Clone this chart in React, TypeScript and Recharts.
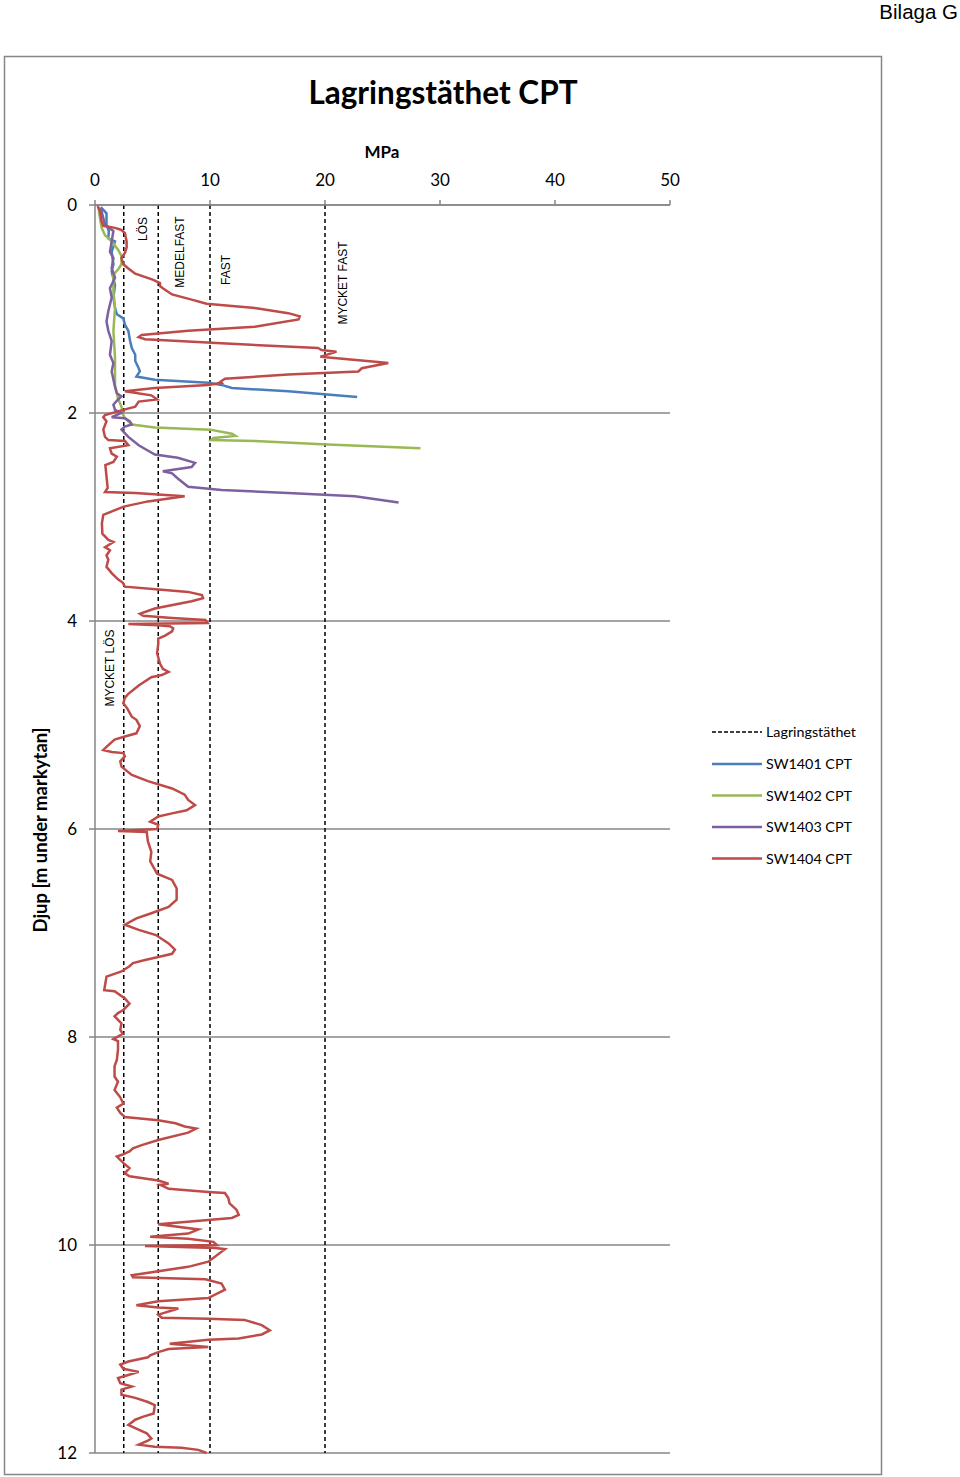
import React from 'react';
import { ScatterChart, Scatter, XAxis, YAxis, CartesianGrid, ReferenceLine } from 'recharts';

const DEPTH_TICKS = [0, 2, 4, 6, 8, 10, 12];
const MPA_TICKS = [0, 10, 20, 30, 40, 50];
const THRESHOLDS = [2.5, 5.5, 10, 20];

// [depth m, qc MPa]
const SW1401: [number, number][] = [
  [0.02, 0.5], [0.08, 1.0], [0.19, 1.0], [0.25, 1.2], [0.32, 1.16], [0.35, 1.74], [0.45, 1.45],
  [0.57, 1.6], [0.64, 1.45], [0.77, 1.74], [0.89, 1.6], [0.99, 1.74], [1.05, 1.9], [1.09, 2.46],
  [1.15, 2.6], [1.21, 2.9], [1.3, 3.04], [1.375, 3.2], [1.44, 3.5], [1.5, 3.5], [1.57, 3.8],
  [1.6, 3.9], [1.65, 3.6], [1.68, 5.2], [1.71, 9.85], [1.73, 11.0], [1.76, 11.9], [1.79, 16.8],
  [1.846, 22.8],
];

const SW1402: [number, number][] = [
  [0.02, 0.3], [0.125, 0.43], [0.22, 0.58], [0.29, 0.87], [0.35, 1.45], [0.43, 2.0], [0.49, 2.3],
  [0.57, 2.3], [0.62, 2.0], [0.67, 1.6], [0.83, 1.6], [0.99, 1.74], [1.21, 1.6], [1.47, 1.74],
  [1.73, 1.74], [1.86, 2.0], [1.94, 2.3], [2.02, 2.46], [2.05, 2.6], [2.11, 3.2], [2.14, 5.2],
  [2.16, 10.0], [2.2, 11.9], [2.22, 12.2], [2.24, 10.3], [2.26, 10.1], [2.27, 13.9], [2.3, 19.7],
  [2.34, 28.3],
];

const SW1403: [number, number][] = [
  [0.03, 0.5], [0.125, 0.72], [0.19, 0.87], [0.25, 1.6], [0.35, 1.45], [0.45, 1.3], [0.51, 1.6],
  [0.61, 1.45], [0.7, 1.74], [0.8, 1.3], [0.89, 1.45], [1.02, 1.16], [1.12, 1.0], [1.21, 1.16],
  [1.31, 1.45], [1.44, 1.3], [1.52, 1.6], [1.6, 1.45], [1.75, 1.74], [1.81, 1.9], [1.84, 2.3],
  [1.87, 2.0], [1.92, 1.6], [1.97, 1.74], [2.0, 2.3], [2.04, 1.45], [2.05, 2.6], [2.08, 3.04],
  [2.11, 3.2], [2.13, 2.6], [2.16, 2.3], [2.23, 2.9], [2.31, 3.8], [2.4, 5.2], [2.43, 7.2],
  [2.48, 8.7], [2.52, 8.4], [2.56, 5.9], [2.58, 6.7], [2.63, 7.2], [2.71, 8.1], [2.74, 11.0],
  [2.77, 16.8], [2.8, 22.6], [2.86, 26.4],
];

const SW1404: [number, number][] = [
  [0.01, 0.23], [0.06, 0.43], [0.16, 0.58], [0.2, 0.72], [0.22, 1.74], [0.24, 2.3], [0.27, 2.6],
  [0.35, 2.75], [0.41, 2.75], [0.46, 2.6], [0.51, 2.3], [0.57, 2.46], [0.61, 2.9], [0.66, 3.5],
  [0.72, 5.07], [0.75, 5.65], [0.78, 5.65], [0.8, 5.9], [0.86, 6.7], [0.91, 8.4], [0.95, 9.7],
  [0.99, 13.9], [1.04, 16.8], [1.07, 17.8], [1.1, 17.7], [1.17, 13.9], [1.21, 8.1], [1.25, 4.06],
  [1.27, 3.8], [1.29, 4.35], [1.33, 11.0], [1.375, 19.4], [1.394, 19.7], [1.41, 21.0], [1.46, 19.6],
  [1.51, 24.6], [1.52, 25.5], [1.57, 23.2], [1.6, 22.9], [1.63, 16.8], [1.67, 11.3], [1.7, 10.9],
  [1.71, 11.0], [1.73, 9.85], [1.76, 5.2], [1.79, 2.6], [1.83, 4.9], [1.87, 5.4], [1.89, 3.8],
  [1.94, 3.5], [1.97, 2.46], [2.02, 0.87], [2.04, 0.72], [2.08, 1.0], [2.16, 0.72], [2.23, 0.87],
  [2.26, 1.16], [2.27, 2.6], [2.31, 2.9], [2.34, 1.3], [2.39, 1.45], [2.42, 1.9], [2.47, 1.6],
  [2.5, 0.9], [2.61, 1.0], [2.72, 1.1], [2.76, 0.87], [2.77, 3.5], [2.8, 7.8], [2.85, 4.6],
  [2.9, 2.5], [2.98, 0.72], [3.06, 0.6], [3.16, 0.64], [3.22, 1.16], [3.24, 1.6], [3.29, 0.87],
  [3.32, 1.3], [3.37, 1.0], [3.41, 1.16], [3.48, 1.0], [3.54, 1.45], [3.6, 2.0], [3.63, 2.4],
  [3.67, 2.6], [3.7, 5.8], [3.72, 8.1], [3.75, 9.3], [3.78, 9.4], [3.81, 8.4], [3.88, 5.2],
  [3.93, 3.9], [3.95, 4.2], [3.97, 6.7], [3.99, 9.6], [4.02, 9.8], [4.03, 2.9], [4.04, 5.5],
  [4.05, 6.5], [4.07, 6.8], [4.1, 6.7], [4.14, 6.1], [4.17, 5.5], [4.22, 5.5], [4.31, 5.4],
  [4.41, 5.65], [4.46, 5.9], [4.49, 6.4], [4.52, 5.8], [4.54, 4.9], [4.62, 3.8], [4.7, 2.9],
  [4.74, 2.6], [4.79, 2.46], [4.84, 2.8], [4.92, 3.2], [4.95, 3.6], [5.01, 3.9], [5.08, 3.6],
  [5.11, 2.6], [5.14, 1.7], [5.21, 1.0], [5.24, 0.72], [5.26, 1.45], [5.27, 2.46], [5.3, 2.6],
  [5.35, 2.2], [5.4, 2.3], [5.48, 3.2], [5.54, 4.6], [5.61, 6.7], [5.67, 7.8], [5.72, 8.1],
  [5.77, 8.7], [5.82, 7.97], [5.85, 6.7], [5.88, 5.5], [5.93, 4.8], [5.96, 5.5], [6.0, 5.4],
  [6.02, 2.0], [6.03, 4.5], [6.12, 4.6], [6.22, 4.9], [6.31, 4.8], [6.43, 5.4], [6.49, 6.7],
  [6.57, 7.1], [6.68, 7.1], [6.75, 6.4], [6.81, 4.9], [6.86, 3.6], [6.92, 2.6], [6.97, 3.8],
  [7.02, 5.3], [7.1, 6.4], [7.16, 6.95], [7.2, 6.7], [7.23, 5.5], [7.26, 4.35], [7.29, 3.3],
  [7.32, 3.0], [7.37, 2.3], [7.42, 1.0], [7.55, 0.8], [7.56, 1.7], [7.63, 2.6], [7.68, 3.0],
  [7.74, 2.46], [7.77, 2.0], [7.8, 1.7], [7.87, 2.3], [7.93, 2.2], [7.97, 2.4], [8.02, 1.6],
  [8.04, 2.0], [8.12, 2.0], [8.22, 1.9], [8.28, 1.7], [8.38, 1.7], [8.43, 2.0], [8.51, 1.7],
  [8.58, 2.2], [8.64, 2.46], [8.68, 1.9], [8.73, 2.2], [8.77, 2.6], [8.8, 5.5], [8.83, 7.0],
  [8.86, 7.8], [8.88, 8.8], [8.92, 8.1], [8.99, 5.5], [9.04, 4.06], [9.07, 3.3], [9.1, 3.0],
  [9.13, 2.4], [9.15, 1.9], [9.21, 2.46], [9.26, 3.0], [9.31, 2.6], [9.34, 3.0], [9.38, 5.5],
  [9.41, 6.4], [9.42, 5.65], [9.46, 6.4], [9.49, 9.85], [9.5, 11.3], [9.55, 11.6], [9.6, 11.7],
  [9.66, 12.3], [9.71, 12.5], [9.74, 11.9], [9.76, 9.85], [9.8, 5.5], [9.85, 9.0], [9.89, 8.1],
  [9.91, 5.8], [9.92, 4.8], [9.94, 8.1], [9.97, 10.3], [10.0, 10.6], [10.01, 4.35], [10.03, 10.5],
  [10.04, 11.3], [10.16, 9.85], [10.21, 8.1], [10.29, 3.2], [10.31, 3.3], [10.33, 9.6], [10.37, 11.0],
  [10.43, 11.3], [10.51, 9.85], [10.54, 5.5], [10.58, 3.6], [10.6, 5.5], [10.61, 7.25], [10.67, 5.5],
  [10.7, 5.8], [10.71, 9.85], [10.72, 13.0], [10.77, 14.5], [10.82, 15.2], [10.86, 14.5],
  [10.9, 12.5], [10.91, 9.85], [10.95, 6.5], [10.98, 9.85], [11.0, 6.4], [11.03, 5.5], [11.06, 4.8],
  [11.08, 4.6], [11.12, 2.9], [11.15, 2.2], [11.19, 2.46], [11.22, 3.8], [11.25, 2.9], [11.28, 2.0],
  [11.33, 2.2], [11.36, 3.2], [11.39, 2.3], [11.44, 2.3], [11.47, 3.5], [11.51, 4.6], [11.54, 5.2],
  [11.62, 5.1], [11.65, 4.2], [11.68, 3.5], [11.73, 2.9], [11.76, 3.5], [11.81, 4.5], [11.86, 4.9],
  [11.88, 4.6], [11.92, 3.8], [11.94, 5.2], [11.95, 7.5], [11.97, 8.98], [12.0, 9.7],
];

const SERIES = [
  { name: 'SW1401 CPT', color: '#4A7EBB', pts: SW1401 },
  { name: 'SW1402 CPT', color: '#98B954', pts: SW1402 },
  { name: 'SW1403 CPT', color: '#7D60A0', pts: SW1403 },
  { name: 'SW1404 CPT', color: '#BE4B48', pts: SW1404 },
];

const ZONE_LABELS = [
  { text: 'LÖS', x: 143, y: 229 },
  { text: 'MEDELFAST', x: 180, y: 252 },
  { text: 'FAST', x: 226, y: 270 },
  { text: 'MYCKET FAST', x: 343, y: 283 },
  { text: 'MYCKET LÖS', x: 110, y: 668 },
];

const GRAY = '#868686';
const FONT = 'Lato, "Open Sans", sans-serif';

const NoDot = () => <g />;

export default function App() {
  return (
    <div style={{ position: 'absolute', left: 0, top: 0, width: 960, height: 1477, background: '#fff', overflow: 'hidden' }}>
      <svg width={960} height={1477} style={{ position: 'absolute', left: 0, top: 0 }}>
        <rect x={4.5} y={56.5} width={877} height={1418} fill="#fff" stroke={GRAY} strokeWidth={1.5} />
        <text x={958} y={19} textAnchor="end" fontFamily="'Liberation Sans', Arial, sans-serif" fontSize={20.5} fill="#000">Bilaga G</text>
        <text x={443} y={104} textAnchor="middle" fontFamily={FONT} fontWeight="bold" fontSize={31.5} fill="#000">Lagringstäthet CPT</text>
        <text x={382} y={158} textAnchor="middle" fontFamily={FONT} fontWeight="bold" fontSize={17} fill="#000">MPa</text>
        <text x={47} y={830} textAnchor="middle" fontFamily={FONT} fontWeight="bold" fontSize={18.5} fill="#000" transform="rotate(-90 47 830)">Djup [m under markytan]</text>
        {ZONE_LABELS.map((z) => (
          <text key={z.text} x={z.x} y={z.y} textAnchor="middle" dominantBaseline="central" fontFamily="'Liberation Sans', Arial, sans-serif" fontSize={12} fill="#000" transform={`rotate(-90 ${z.x} ${z.y})`}>{z.text}</text>
        ))}
        <g fontFamily={FONT} fontSize={14.3} fill="#000">
          <line x1={712} y1={732} x2={762} y2={732} stroke="#000" strokeWidth={1.5} strokeDasharray="4 2" />
          <text x={766} y={737}>Lagringstäthet</text>
          {SERIES.map((s, i) => (
            <g key={s.name}>
              <line x1={712} y1={764 + i * 31.5} x2={762} y2={764 + i * 31.5} stroke={s.color} strokeWidth={2.5} />
              <text x={766} y={769 + i * 31.5}>{s.name}</text>
            </g>
          ))}
        </g>
      </svg>
      <div style={{ position: 'absolute', left: 0, top: 0 }}>
        <ScatterChart width={960} height={1477} margin={{ top: 175, right: 290, bottom: 24, left: 65 }}>
          <CartesianGrid horizontal vertical={false} stroke={GRAY} strokeWidth={1.5} />
          <XAxis
            type="number"
            dataKey="v"
            orientation="top"
            domain={[0, 50]}
            ticks={MPA_TICKS}
            height={30}
            tickSize={5}
            tickMargin={14}
            axisLine={{ stroke: GRAY, strokeWidth: 1.5 }}
            tickLine={{ stroke: GRAY, strokeWidth: 1.5 }}
            tick={{ fill: '#000', fontSize: 17, fontFamily: FONT }}
          />
          <YAxis
            type="number"
            dataKey="d"
            domain={[0, 12]}
            reversed
            ticks={DEPTH_TICKS}
            width={30}
            tickSize={6}
            tickMargin={12}
            axisLine={{ stroke: GRAY, strokeWidth: 1.5 }}
            tickLine={{ stroke: GRAY, strokeWidth: 1.5 }}
            tick={{ fill: '#000', fontSize: 17, fontFamily: FONT }}
          />
          {THRESHOLDS.map((t) => (
            <ReferenceLine key={t} x={t} stroke="#000" strokeWidth={1.5} strokeDasharray="4 3" />
          ))}
          {SERIES.map((s) => (
            <Scatter
              key={s.name}
              name={s.name}
              data={s.pts.map(([d, v]) => ({ d, v }))}
              line={{ stroke: s.color, strokeWidth: 2.5 }}
              shape={NoDot}
              fill={s.color}
              isAnimationActive={false}
            />
          ))}
        </ScatterChart>
      </div>
    </div>
  );
}
